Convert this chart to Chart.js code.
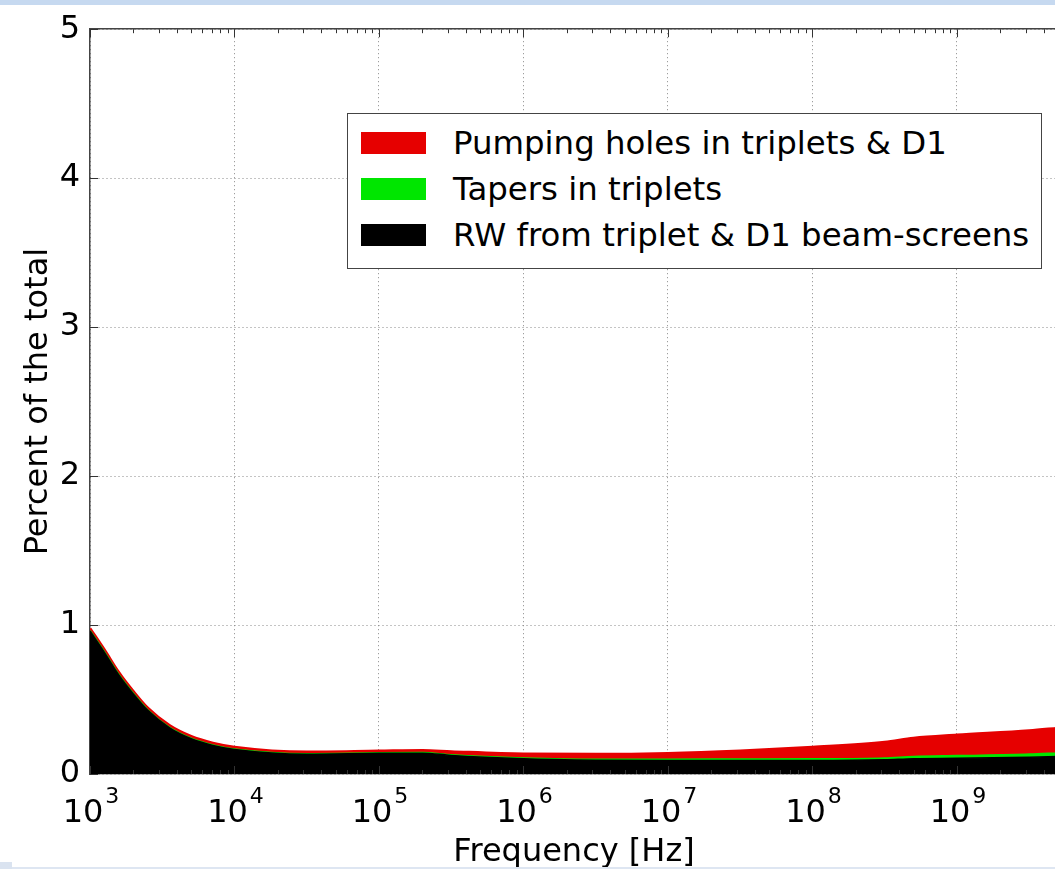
<!DOCTYPE html>
<html lang="en">
<head>
  <meta charset="UTF-8" />
  <title>Impedance contributions</title>
  <script src="https://cdn.jsdelivr.net/npm/chart.js"></script>
  <style>
    body {
      margin: 0;
      width: 1055px;
      height: 869px;
      overflow: hidden;
      background: white;
      font-family: "DejaVu Sans", sans-serif;
      position: relative;
    }
    #chart {
      position: absolute;
      left: 0;
      top: 0;
    }
    .band-top {
      position: absolute; left: 0; top: 0;
      width: 1055px; height: 5px;
      background: #c6d9f0;
    }
    .band-bottom {
      position: absolute; left: 0; top: 867px;
      width: 1055px; height: 2px;
      background: #dee6f2;
    }
    .corner {
      position: absolute; left: 0; top: 862px;
      width: 12px; height: 7px;
      background: #dae3f0;
    }
    .legend {
      position: absolute;
      left: 347px; top: 113px;
      width: 693px; height: 154px;
      border: 1.5px solid #444;
      background: white;
    }
    .legend .row {
      position: absolute;
      left: 13px;
      height: 40px;
      display: flex;
      align-items: center;
      font-size: 32.4px;
      color: #000;
      white-space: nowrap;
    }
    .legend .swatch {
      width: 65px; height: 22px;
      margin-right: 27px;
    }
  </style>
</head>
<body>

<canvas id="chart" width="1060" height="869"></canvas>
<div class="band-top"></div>
<div class="band-bottom"></div>
<div class="corner"></div>
<div class="legend" id="legend"></div>

<script>
  // frequency points [Hz]
  const freqs = [1e3, 1.26e3, 1.58e3, 2e3, 2.51e3, 3.55e3, 5.01e3, 7.08e3, 1e4, 3.16e4,
                 1e5, 2e5, 3.16e5, 1e6, 3.16e6, 1e7, 3.16e7, 1e8, 3.16e8, 5e8,
                 1e9, 3.16e9, 5e9];

  // contributions, percent of the total (stacked)
  const rwBeamScreens = [0.960, 0.815, 0.665, 0.536, 0.427, 0.310, 0.237, 0.192, 0.165, 0.133,
                         0.139, 0.140, 0.125, 0.103, 0.093, 0.090, 0.090, 0.090, 0.095, 0.103,
                         0.105, 0.112, 0.117];
  const tapers = [0.002, 0.002, 0.002, 0.002, 0.002, 0.002, 0.002, 0.002, 0.002, 0.002,
                  0.002, 0.002, 0.002, 0.003, 0.004, 0.008, 0.009, 0.010, 0.011, 0.013,
                  0.017, 0.020, 0.023];
  const pumpingHoles = [0.015, 0.015, 0.015, 0.014, 0.013, 0.013, 0.013, 0.013, 0.013, 0.012,
                        0.013, 0.016, 0.023, 0.028, 0.035, 0.040, 0.056, 0.080, 0.107, 0.124,
                        0.139, 0.158, 0.168];

  const seriesNames = ["Pumping holes in triplets & D1", "Tapers in triplets", "RW from triplet & D1 beam-screens"];
  const seriesColors = ["#e60000", "#00e600", "#000000"];

  const decades = [1e3, 1e4, 1e5, 1e6, 1e7, 1e8, 1e9];
  const yTicks = [0, 1, 2, 3, 4, 5];
  const xMin = 1e3, xMax = 5e9;

  const toPoints = vals => vals.map((v, i) => ({ x: freqs[i], y: v }));

  // legend (same order as the picture)
  const legend = document.getElementById("legend");
  seriesNames.forEach((name, i) => {
    const row = document.createElement("div");
    row.className = "row";
    row.style.top = (9 + i * 46) + "px";
    row.innerHTML = `<span class="swatch" style="background:${seriesColors[i]}"></span><span></span>`;
    row.lastChild.textContent = name;
    legend.appendChild(row);
  });

  // inward ticks + 10^n labels, matplotlib style
  const axisDecor = {
    id: "axisDecor",
    afterDatasetsDraw(chart) {
      const ctx = chart.ctx, area = chart.chartArea;
      const x = chart.scales.x, y = chart.scales.y;
      ctx.save();
      ctx.strokeStyle = "#333";
      ctx.lineWidth = 1;
      for (let e = 3; e <= 9; e++) {
        for (let m = 1; m <= 9; m++) {
          const v = m * Math.pow(10, e);
          if (v > xMax) break;
          const px = Math.round(x.getPixelForValue(v)) + 0.5;
          const len = m === 1 ? 8 : 4;
          ctx.beginPath();
          ctx.moveTo(px, area.top); ctx.lineTo(px, area.top + len);
          ctx.moveTo(px, area.bottom); ctx.lineTo(px, area.bottom - len);
          ctx.stroke();
        }
      }
      yTicks.forEach(v => {
        const py = Math.round(y.getPixelForValue(v)) + 0.5;
        ctx.beginPath();
        ctx.moveTo(area.left, py); ctx.lineTo(area.left + 8, py);
        ctx.stroke();
      });
      ctx.restore();
    },
    afterDraw(chart) {
      const ctx = chart.ctx;
      const x = chart.scales.x;
      ctx.save();
      ctx.fillStyle = "#000";
      ctx.textBaseline = "alphabetic";
      ctx.textAlign = "left";
      decades.forEach(v => {
        const px = x.getPixelForValue(v);
        const exp = String(Math.round(Math.log10(v)));
        ctx.font = '32px "DejaVu Sans"';
        const wb = ctx.measureText("10").width;
        ctx.font = '22px "DejaVu Sans"';
        const we = ctx.measureText(exp).width;
        const x0 = px - (wb + we) / 2;
        ctx.font = '32px "DejaVu Sans"';
        ctx.fillText("10", x0, 822);
        ctx.font = '22px "DejaVu Sans"';
        ctx.fillText(exp, x0 + wb + 2, 803);
      });
      ctx.restore();
    }
  };

  const dotted = { color: "#888", lineWidth: 1, drawTicks: false };

  new Chart(document.getElementById("chart"), {
    type: "line",
    data: {
      datasets: [
        {
          label: seriesNames[2], data: toPoints(rwBeamScreens),
          borderColor: seriesColors[2], backgroundColor: seriesColors[2],
          fill: "origin", borderWidth: 1.5
        },
        {
          label: seriesNames[1], data: toPoints(tapers),
          borderColor: seriesColors[1], backgroundColor: seriesColors[1],
          fill: "-1", borderWidth: 2
        },
        {
          label: seriesNames[0], data: toPoints(pumpingHoles),
          borderColor: seriesColors[0], backgroundColor: seriesColors[0],
          fill: "-1", borderWidth: 3
        }
      ]
    },
    options: {
      responsive: false,
      animation: false,
      devicePixelRatio: 1,
      layout: { padding: { left: 0, right: 2, top: 0, bottom: 0 } },
      elements: {
        point: { radius: 0 },
        line: { cubicInterpolationMode: "monotone" }
      },
      plugins: {
        legend: { display: false },
        tooltip: { enabled: false }
      },
      scales: {
        x: {
          type: "logarithmic",
          position: "bottom",
          min: xMin, max: xMax,
          afterBuildTicks: s => { s.ticks = decades.map(v => ({ value: v })); },
          afterFit: s => { s.height = 95; },
          ticks: { display: false },
          grid: dotted,
          border: { display: true, color: "#777", width: 1.5, dash: [1, 3] },
          title: {
            display: true,
            text: "Frequency [Hz]",
            color: "#000",
            font: { family: "DejaVu Sans", size: 32 },
            padding: { top: 0, bottom: -3 }
          }
        },
        xTop: {
          type: "logarithmic",
          position: "top",
          min: xMin, max: xMax,
          afterFit: s => { s.height = 27; },
          ticks: { display: false },
          grid: { display: false },
          border: { display: true, color: "#444", width: 1.5 }
        },
        y: {
          type: "linear",
          stacked: true,
          min: 0, max: 5,
          afterBuildTicks: s => { s.ticks = yTicks.map(v => ({ value: v })); },
          afterFit: s => { s.width = 90; },
          ticks: {
            color: "#000",
            padding: 10,
            font: { family: "DejaVu Sans", size: 32 }
          },
          grid: dotted,
          border: { display: true, color: "#444", width: 1.5, dash: [1, 3] },
          title: {
            display: true,
            text: "Percent of the total",
            color: "#000",
            font: { family: "DejaVu Sans", size: 32 },
            padding: { top: 19, bottom: 0 }
          }
        }
      }
    },
    plugins: [axisDecor]
  });
</script>
</body>
</html>
